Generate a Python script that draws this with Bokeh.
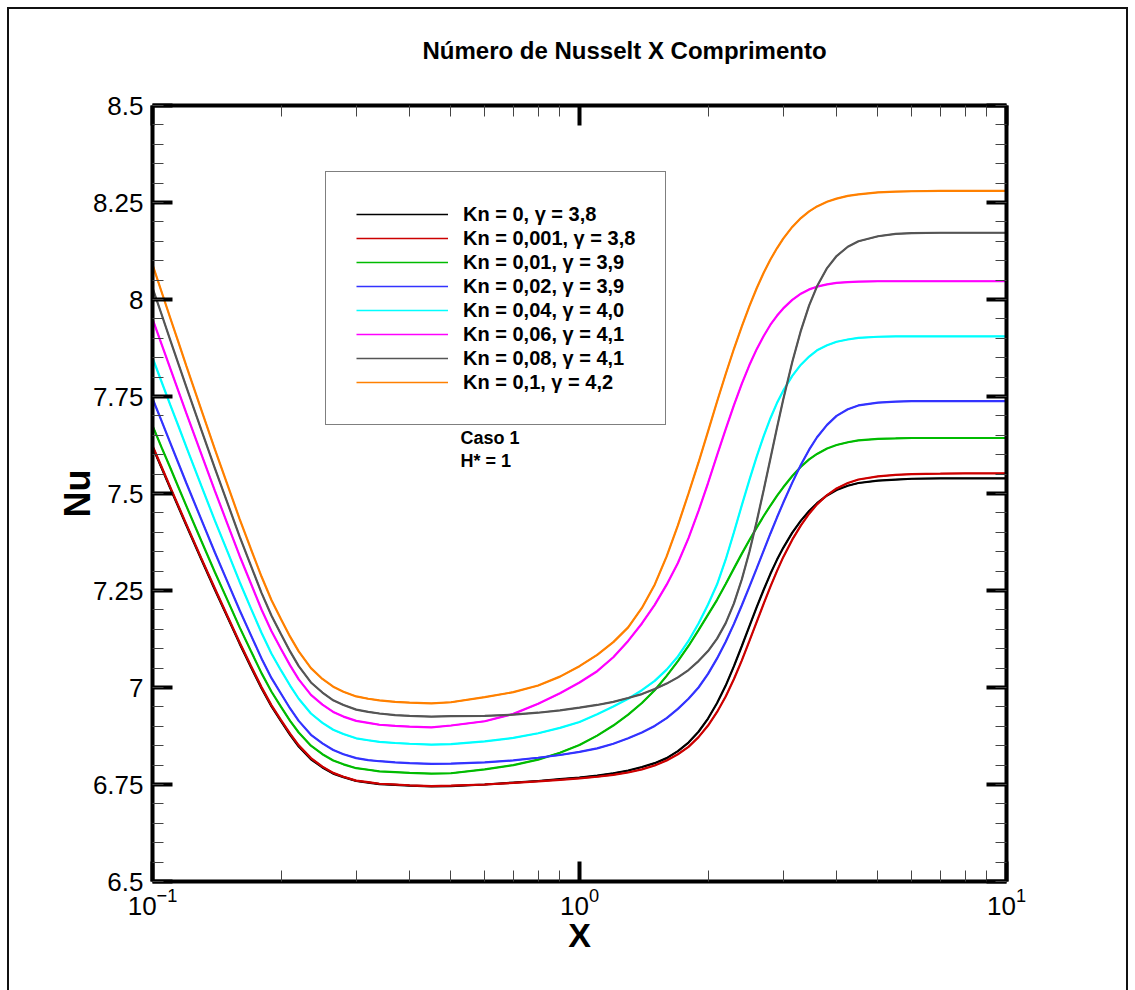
from bokeh.plotting import figure
from bokeh.models import (Range1d, FixedTicker, LogAxis, LinearAxis, LogTickFormatter,
                          CustomJSTickFormatter, Legend, LegendItem, Label, Title)
from bokeh.embed import file_html
from bokeh.resources import INLINE

# ---------------- data ----------------
x_vals = [0.1, 0.105, 0.11, 0.115, 0.12, 0.13, 0.14, 0.15, 0.16, 0.17, 0.18, 0.19, 0.2, 0.21, 0.22,
          0.235, 0.25, 0.265, 0.28, 0.3, 0.32, 0.34, 0.37, 0.4, 0.45, 0.5,
          0.6, 0.7, 0.8, 0.9, 1.0, 1.1, 1.2, 1.3, 1.4, 1.5, 1.6, 1.7, 1.8, 1.9, 2.0, 2.1, 2.2, 2.3,
          2.4, 2.5, 2.6, 2.7, 2.8, 2.9, 3.0, 3.15, 3.3, 3.45, 3.6, 3.8, 4.0, 4.25, 4.5, 5.0, 5.5,
          6.0, 7.0, 8.0, 10.0]

nu_kn0 = [7.620, 7.566, 7.514, 7.465, 7.418, 7.331, 7.252, 7.180, 7.113, 7.053, 6.998, 6.951, 6.913,
          6.878, 6.848, 6.815, 6.794, 6.778, 6.769, 6.759, 6.755, 6.751, 6.749, 6.747, 6.745, 6.746,
          6.750, 6.755, 6.759, 6.764, 6.768, 6.773, 6.779, 6.786, 6.795, 6.805, 6.818, 6.836, 6.858,
          6.886, 6.920, 6.960, 7.005, 7.055, 7.107, 7.158, 7.207, 7.252, 7.293, 7.329, 7.360, 7.399,
          7.430, 7.455, 7.475, 7.495, 7.509, 7.520, 7.527, 7.533, 7.536, 7.538, 7.539, 7.539, 7.539]
nu_kn0001 = [7.623, 7.569, 7.517, 7.468, 7.421, 7.334, 7.255, 7.183, 7.116, 7.056, 7.001, 6.954, 6.916,
             6.881, 6.851, 6.818, 6.796, 6.780, 6.770, 6.760, 6.756, 6.752, 6.750, 6.748, 6.746, 6.747,
             6.750, 6.754, 6.758, 6.762, 6.766, 6.770, 6.775, 6.781, 6.789, 6.799, 6.812, 6.828, 6.847,
             6.872, 6.902, 6.937, 6.977, 7.022, 7.070, 7.120, 7.169, 7.216, 7.260, 7.300, 7.336, 7.381,
             7.418, 7.448, 7.472, 7.496, 7.513, 7.527, 7.536, 7.544, 7.548, 7.550, 7.551, 7.552, 7.552]
nu_kn001 = [7.675, 7.619, 7.567, 7.516, 7.468, 7.379, 7.297, 7.224, 7.155, 7.094, 7.037, 6.989, 6.950,
            6.914, 6.884, 6.850, 6.828, 6.812, 6.802, 6.792, 6.788, 6.784, 6.782, 6.780, 6.778, 6.779,
            6.789, 6.800, 6.814, 6.832, 6.852, 6.876, 6.902, 6.930, 6.960, 6.993, 7.030, 7.068, 7.107,
            7.148, 7.188, 7.226, 7.267, 7.307, 7.345, 7.380, 7.412, 7.442, 7.469, 7.494, 7.516, 7.545,
            7.569, 7.588, 7.602, 7.616, 7.625, 7.632, 7.637, 7.641, 7.642, 7.643, 7.643, 7.643, 7.643]
nu_kn002 = [7.745, 7.687, 7.631, 7.578, 7.527, 7.434, 7.348, 7.271, 7.199, 7.135, 7.075, 7.024, 6.984,
            6.946, 6.914, 6.878, 6.856, 6.839, 6.828, 6.818, 6.813, 6.810, 6.807, 6.805, 6.803, 6.804,
            6.807, 6.812, 6.819, 6.826, 6.834, 6.843, 6.855, 6.869, 6.884, 6.901, 6.921, 6.945, 6.971,
            7.000, 7.035, 7.075, 7.118, 7.164, 7.212, 7.260, 7.307, 7.353, 7.397, 7.438, 7.476, 7.528,
            7.574, 7.613, 7.645, 7.677, 7.700, 7.717, 7.727, 7.734, 7.737, 7.738, 7.738, 7.738, 7.738]
nu_kn004 = [7.850, 7.788, 7.729, 7.674, 7.620, 7.521, 7.430, 7.349, 7.272, 7.204, 7.141, 7.087, 7.044,
            7.005, 6.971, 6.933, 6.909, 6.891, 6.880, 6.869, 6.864, 6.860, 6.857, 6.855, 6.853, 6.854,
            6.861, 6.870, 6.882, 6.896, 6.911, 6.931, 6.951, 6.971, 6.993, 7.017, 7.046, 7.080, 7.120,
            7.165, 7.214, 7.266, 7.330, 7.400, 7.470, 7.535, 7.595, 7.648, 7.694, 7.733, 7.765, 7.803,
            7.832, 7.853, 7.869, 7.882, 7.891, 7.897, 7.901, 7.904, 7.905, 7.905, 7.905, 7.905, 7.905]
nu_kn006 = [7.950, 7.885, 7.823, 7.764, 7.707, 7.603, 7.507, 7.420, 7.339, 7.268, 7.201, 7.145, 7.099,
            7.057, 7.021, 6.981, 6.956, 6.937, 6.925, 6.914, 6.909, 6.904, 6.901, 6.899, 6.897, 6.902,
            6.913, 6.932, 6.958, 6.985, 7.013, 7.042, 7.078, 7.120, 7.165, 7.213, 7.265, 7.321, 7.385,
            7.455, 7.527, 7.599, 7.666, 7.728, 7.783, 7.831, 7.872, 7.906, 7.935, 7.958, 7.977, 7.999,
            8.015, 8.026, 8.033, 8.039, 8.043, 8.045, 8.046, 8.047, 8.047, 8.047, 8.047, 8.047, 8.047]
nu_kn008 = [8.030, 7.962, 7.896, 7.834, 7.775, 7.665, 7.565, 7.474, 7.389, 7.314, 7.244, 7.185, 7.137,
            7.093, 7.055, 7.013, 6.987, 6.967, 6.955, 6.943, 6.937, 6.933, 6.929, 6.927, 6.925, 6.926,
            6.927, 6.930, 6.935, 6.941, 6.948, 6.955, 6.963, 6.973, 6.983, 6.996, 7.010, 7.026, 7.045,
            7.068, 7.094, 7.126, 7.166, 7.217, 7.279, 7.350, 7.428, 7.509, 7.590, 7.669, 7.742, 7.839,
            7.920, 7.985, 8.034, 8.081, 8.112, 8.136, 8.150, 8.163, 8.169, 8.171, 8.172, 8.172, 8.172]
nu_kn01 = [8.090, 8.020, 7.953, 7.890, 7.829, 7.717, 7.614, 7.521, 7.434, 7.357, 7.286, 7.225, 7.176,
           7.131, 7.093, 7.050, 7.022, 7.002, 6.989, 6.977, 6.971, 6.967, 6.963, 6.961, 6.959, 6.962,
           6.975, 6.988, 7.005, 7.028, 7.055, 7.084, 7.117, 7.155, 7.205, 7.265, 7.338, 7.418, 7.500,
           7.580, 7.660, 7.737, 7.808, 7.873, 7.931, 7.983, 8.029, 8.069, 8.103, 8.132, 8.157, 8.187,
           8.210, 8.227, 8.240, 8.252, 8.260, 8.267, 8.271, 8.276, 8.278, 8.279, 8.280, 8.280, 8.280]

labels = ["Kn = 0, \u03b3 = 3,8", "Kn = 0,001, \u03b3 = 3,8", "Kn = 0,01, \u03b3 = 3,9",
          "Kn = 0,02, \u03b3 = 3,9", "Kn = 0,04, \u03b3 = 4,0", "Kn = 0,06, \u03b3 = 4,1",
          "Kn = 0,08, \u03b3 = 4,1", "Kn = 0,1, \u03b3 = 4,2"]
colors = ["#000000", "#cc0000", "#00bb00", "#3333ff", "#00ffff", "#ff00ff", "#555555", "#ff8000"]
series = [nu_kn0, nu_kn0001, nu_kn001, nu_kn002, nu_kn004, nu_kn006, nu_kn008, nu_kn01]

x_major = [0.1, 1.0, 10.0]
x_minor = [0.2, 0.3, 0.4, 0.5, 0.6, 0.7, 0.8, 0.9, 2, 3, 4, 5, 6, 7, 8, 9]
y_major = [6.5, 6.75, 7.0, 7.25, 7.5, 7.75, 8.0, 8.25, 8.5]
y_minor = [round(6.5 + 0.05 * i, 2) for i in range(41)]

FONT = "Liberation Sans"

# ---------------- figure ----------------
p = figure(width=1135, height=990, x_axis_type="log",
           x_range=Range1d(0.1, 10), y_range=Range1d(6.5, 8.5),
           output_backend="svg", toolbar_location=None,
           min_border_left=152, min_border_right=129, min_border_top=105, min_border_bottom=109)
p.grid.visible = False
p.outline_line_color = None
p.background_fill_color = "white"
p.border_fill_color = None
# thin page frame (top, left, right) drawn behind the transparent border area
p.styles = {
    "background": ("linear-gradient(#111,#111) 7px 7px / 1121px 2px no-repeat, "
                   "linear-gradient(#111,#111) 7px 7px / 2px 983px no-repeat, "
                   "linear-gradient(#111,#111) 1126px 7px / 2px 983px no-repeat, white"),
}

x_ticker = FixedTicker(ticks=x_major, minor_ticks=x_minor)
y_ticker = FixedTicker(ticks=y_major, minor_ticks=y_minor)


def style_axis(ax, size="26px", standoff=5):
    ax.axis_line_width = 4
    ax.axis_line_color = "black"
    ax.major_tick_in = 20
    ax.major_tick_out = 0
    ax.minor_tick_in = 11
    ax.minor_tick_out = 0
    ax.major_tick_line_width = 4
    ax.major_tick_line_color = "black"
    ax.minor_tick_line_width = 1
    ax.minor_tick_line_color = "#444444"
    ax.major_label_text_font = FONT
    ax.major_label_text_font_size = size
    ax.major_label_text_color = "black"
    ax.major_label_standoff = standoff


xa = p.xaxis[0]
xa.ticker = x_ticker
xa.formatter = LogTickFormatter()
style_axis(xa, standoff=6)
xa.axis_label = "X"
xa.axis_label_text_font = FONT
xa.axis_label_text_font_style = "bold"
xa.axis_label_text_font_size = "34px"
xa.axis_label_text_color = "black"
xa.axis_label_standoff = -2

ya = p.yaxis[0]
ya.ticker = y_ticker
ya.formatter = CustomJSTickFormatter(code="return tick.toString();")
style_axis(ya, standoff=9)
ya.axis_label = "Nu"
ya.axis_label_text_font = FONT
ya.axis_label_text_font_style = "bold"
ya.axis_label_text_font_size = "36px"
ya.axis_label_text_color = "black"
ya.axis_label_standoff = -8

# mirrored axes (ticks only) on top and right
top = LogAxis(ticker=x_ticker, formatter=CustomJSTickFormatter(code="return '';"))
style_axis(top, size="1px", standoff=0)
p.add_layout(top, "above")
right = LinearAxis(ticker=y_ticker, formatter=CustomJSTickFormatter(code="return '';"))
style_axis(right, size="1px", standoff=0)
p.add_layout(right, "right")

items = []
for lab, vals, col in zip(labels, series, colors):
    # thin copy underneath the curve: only used to draw the legend sample
    sample = p.line(x_vals, vals, line_color=col, line_width=1.3)
    p.line(x_vals, vals, line_color=col, line_width=2.2)
    items.append(LegendItem(label=lab, renderers=[sample]))

leg = Legend(items=items, location=(173, 456), orientation="vertical",
             label_text_font=FONT, label_text_font_style="bold", label_text_font_size="20px",
             label_text_color="black",
             glyph_width=92, glyph_height=24, label_height=24, label_standoff=15,
             spacing=0, padding=30, margin=0,
             border_line_color="black", border_line_width=1,
             background_fill_color="white", background_fill_alpha=1.0)
p.add_layout(leg)

title = Title(text="N\u00famero de Nusselt X Comprimento\n", align="left", offset=270,
              text_font=FONT, text_font_style="bold", text_font_size="24px",
              text_color="black", standoff=30)
p.add_layout(title, "above")

p.add_layout(Label(x=308, y=444, x_units="screen", y_units="screen", text="Caso 1",
                   text_font=FONT, text_font_style="bold", text_font_size="18px",
                   text_color="black", text_baseline="middle"))
p.add_layout(Label(x=308, y=421, x_units="screen", y_units="screen", text="H* = 1",
                   text_font=FONT, text_font_style="bold", text_font_size="18px",
                   text_color="black", text_baseline="middle"))

open("out.html", "w").write(file_html(p, INLINE))
